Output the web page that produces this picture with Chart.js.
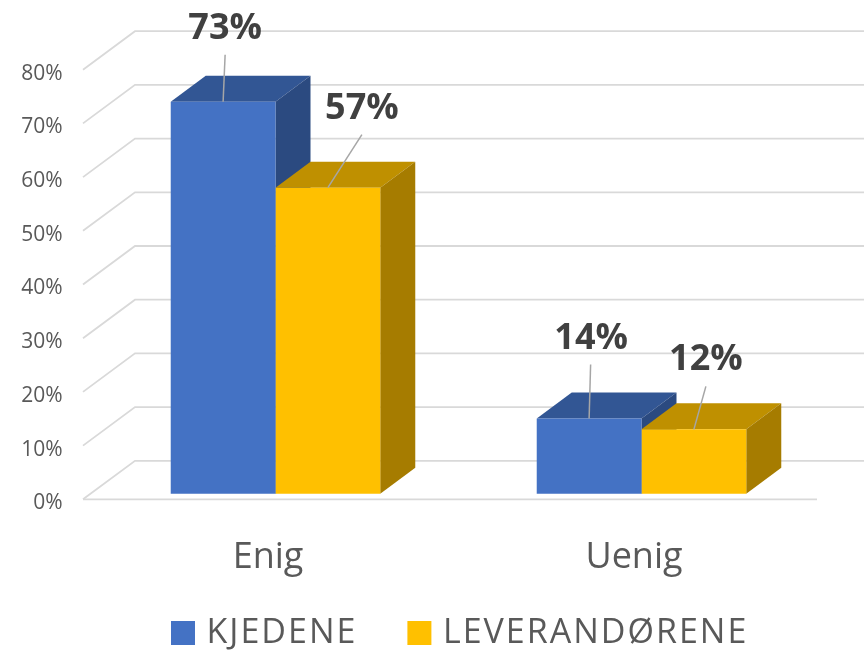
<!DOCTYPE html>
<html><head><meta charset="utf-8">
<style>html,body{margin:0;padding:0;background:#fff}canvas{display:block}</style>
<script src="https://cdn.jsdelivr.net/npm/chart.js@4"></script>
</head><body><canvas id="c" width="864" height="653"></canvas>
<script>
const categories = ['Enig', 'Uenig'];
const kjedene = [73, 14];
const leverandorene = [57, 12];
const seriesNames = ['KJEDENE', 'LEVERANDØRENE'];
const tickStep = 10;
const axisMax = 80;

const frontColors = ['#4472C4', '#FFC000'];
const topColors = ['#325694', '#BF9000'];
const sideColors = ['#2B4A80', '#A67C00'];
const FONT = '"Open Sans", sans-serif';
const DEPTH_X = 35, DEPTH_Y = 26;           // bar extrusion
const WALL_X = 52, WALL_Y = 38.5;           // floor/wall skew
const BAR_LIFT = 1.03;                      // bars stand slightly behind the axis plane

// label anchor relative to bar top-centre, and where the leader begins
const labelDX = [[2, 2], [34, 12]];
const labelDY = [[-72.8, -79.8], [-79.3, -69.3]];
const leaderDX = [[2, 1.5], [34, 12]];
const leaderDY = [[-47, -54], [-53, -43]];

const threeD = {
  id: 'threeD',
  afterLayout(chart) {
    const lg = chart.legend;
    lg.left = 121;
    lg.right = chart.width + 200;
    lg.top = 560.5;
    if (!lg._spaced) {
      lg._spaced = true;
      const orig = lg.draw;
      lg.draw = function (...args) {
        chart.ctx.letterSpacing = '2px';
        orig.apply(this, args);
        chart.ctx.letterSpacing = '0px';
      };
    }
  },
  beforeDatasetsDraw(chart) {
    const { ctx, chartArea: a, scales: { y } } = chart;
    const x0 = a.left - 9.5, x1 = x0 + WALL_X;
    ctx.save();
    ctx.strokeStyle = '#D9D9D9';
    ctx.lineWidth = 1.8;
    ctx.lineCap = 'butt';
    y.ticks.forEach(t => {
      const fy = y.getPixelForValue(t.value), by = fy - WALL_Y;
      ctx.beginPath();
      ctx.moveTo(x0, fy);
      ctx.lineTo(x1, by);
      ctx.lineTo(chart.width, by);
      ctx.stroke();
    });
    const fy0 = y.getPixelForValue(0);
    ctx.beginPath();
    ctx.moveTo(x0, fy0);
    ctx.lineTo(a.right - 7.5, fy0);
    ctx.stroke();
    // extruded faces, category by category, back series first
    chart.data.labels.forEach((_, i) => {
      chart.data.datasets.forEach((ds, d) => {
        const b = chart.getDatasetMeta(d).data[i];
        const l = b.x - b.width / 2, r = b.x + b.width / 2, t = b.y, base = b.base;
        ctx.fillStyle = topColors[d];
        ctx.beginPath();
        ctx.moveTo(l, t); ctx.lineTo(l + DEPTH_X, t - DEPTH_Y);
        ctx.lineTo(r + DEPTH_X, t - DEPTH_Y); ctx.lineTo(r, t);
        ctx.closePath(); ctx.fill();
        ctx.fillStyle = sideColors[d];
        ctx.beginPath();
        ctx.moveTo(r, t); ctx.lineTo(r + DEPTH_X, t - DEPTH_Y);
        ctx.lineTo(r + DEPTH_X, base - DEPTH_Y); ctx.lineTo(r, base);
        ctx.closePath(); ctx.fill();
      });
    });
    ctx.restore();
  },
  afterDatasetsDraw(chart) {
    const { ctx } = chart;
    ctx.save();
    chart.data.datasets.forEach((ds, d) => {
      chart.getDatasetMeta(d).data.forEach((b, i) => {
        ctx.strokeStyle = '#A6A6A6';
        ctx.lineWidth = 1.5;
        ctx.beginPath();
        ctx.moveTo(b.x, b.y);
        ctx.lineTo(b.x + leaderDX[d][i], b.y + leaderDY[d][i]);
        ctx.stroke();
        ctx.fillStyle = '#404040';
        ctx.font = 'bold 36px ' + FONT;
        ctx.textAlign = 'center';
        ctx.textBaseline = 'middle';
        ctx.fillText(ds.data[i] + '%', b.x + labelDX[d][i], b.y + labelDY[d][i]);
      });
    });
    ctx.restore();
  }
};

new Chart(document.getElementById('c'), {
  type: 'bar',
  data: {
    labels: categories,
    datasets: [
      { label: seriesNames[0], data: kjedene, backgroundColor: frontColors[0], yAxisID: 'yBars' },
      { label: seriesNames[1], data: leverandorene, backgroundColor: frontColors[1], yAxisID: 'yBars' }
    ]
  },
  plugins: [threeD],
  options: {
    responsive: false,
    animation: false,
    layout: { padding: { left: 0, right: 39.5, top: 69.7, bottom: -35.8 } },
    datasets: { bar: { categoryPercentage: 0.5725, barPercentage: 1, borderWidth: 0 } },
    scales: {
      x: {
        grid: { display: false, drawTicks: false },
        border: { display: false },
        afterFit(s) { s.height = 90; },
        ticks: { padding: 37, labelOffset: -7.5, color: '#595959', font: { family: FONT, size: 36 } }
      },
      y: {
        min: 0, max: axisMax,
        grid: { display: false, drawTicks: false },
        border: { display: false },
        afterFit(s) { s.width = 92.5; },
        ticks: {
          stepSize: tickStep, padding: 30, labelOffset: 4, color: '#595959',
          font: { family: FONT, size: 21 },
          callback: v => v + '%'
        }
      },
      yBars: {
        display: false, position: 'left',
        min: -BAR_LIFT, max: axisMax - BAR_LIFT
      }
    },
    plugins: {
      tooltip: { enabled: false },
      title: { display: false },
      legend: {
        position: 'bottom',
        align: 'start',
        labels: {
          usePointStyle: true, pointStyle: 'rect',
          boxWidth: 13, boxHeight: 24, padding: 55.5,
          color: '#595959', font: { family: FONT, size: 34 }
        }
      }
    }
  }
});
</script></body></html>
